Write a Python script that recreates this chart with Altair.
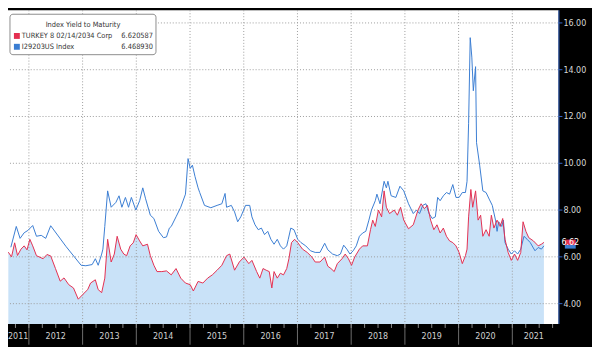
import altair as alt
import pandas as pd

# ---------------- data ----------------
series_names = ["TURKEY 8 02/14/2034 Corp", "I29203US Index"]
last_values = [6.620587, 6.468930]
badge_text = ["6.62", "6.47"]
legend_title = "Index Yield to Maturity"

turkey_t = [2011.617, 2011.677, 2011.735, 2011.788, 2011.853, 2011.912, 2011.965, 2012.018, 2012.071, 2012.141,
            2012.265, 2012.336, 2012.406, 2012.495, 2012.583, 2012.654, 2012.742, 2012.830, 2012.919, 2013.007,
            2013.095, 2013.148, 2013.237, 2013.290, 2013.355, 2013.413, 2013.466, 2013.532, 2013.590, 2013.643,
            2013.709, 2013.767, 2013.820, 2013.885, 2013.943, 2013.996, 2014.062, 2014.120, 2014.208, 2014.261,
            2014.327, 2014.385, 2014.474, 2014.562, 2014.650, 2014.739, 2014.827, 2014.915, 2015.004, 2015.062,
            2015.150, 2015.239, 2015.327, 2015.415, 2015.504, 2015.592, 2015.680, 2015.740, 2015.829, 2015.917,
            2016.005, 2016.094, 2016.152, 2016.240, 2016.299, 2016.359, 2016.417, 2016.475, 2016.523, 2016.564,
            2016.624, 2016.682, 2016.740, 2016.800, 2016.841, 2016.889, 2016.947, 2017.005, 2017.094, 2017.182,
            2017.270, 2017.330, 2017.419, 2017.507, 2017.565, 2017.624, 2017.684, 2017.742, 2017.830, 2017.889,
            2017.949, 2018.007, 2018.065, 2018.154, 2018.214, 2018.302, 2018.360, 2018.401, 2018.449, 2018.507,
            2018.567, 2018.613, 2018.655, 2018.714, 2018.802, 2018.860, 2018.920, 2018.979, 2019.067, 2019.156,
            2019.244, 2019.302, 2019.362, 2019.420, 2019.479, 2019.539, 2019.597, 2019.656, 2019.716, 2019.774,
            2019.832, 2019.892, 2019.951, 2020.009, 2020.069, 2020.127, 2020.157, 2020.186, 2020.228, 2020.263,
            2020.316, 2020.363, 2020.410, 2020.451, 2020.511, 2020.569, 2020.610, 2020.657, 2020.716, 2020.775,
            2020.821, 2020.864, 2020.922, 2020.981, 2021.041, 2021.099, 2021.157, 2021.200, 2021.253, 2021.306,
            2021.394, 2021.482, 2021.541, 2021.588]
turkey_v = [6.20, 6.00, 6.60, 6.06, 6.33, 6.47, 6.30, 6.75, 6.47, 6.05,
            5.92, 6.10, 6.04, 5.50, 4.96, 5.10, 4.81, 4.67, 4.19, 4.40,
            4.60, 4.88, 5.02, 4.60, 4.47, 5.09, 6.75, 5.78, 6.12, 6.88,
            6.33, 6.12, 6.05, 6.47, 6.60, 6.95, 6.68, 6.47, 6.54, 6.05,
            5.64, 5.37, 5.37, 5.40, 5.23, 5.50, 5.09, 4.88, 4.81, 4.54,
            4.95, 4.88, 5.09, 5.23, 5.43, 5.64, 6.05, 6.12, 5.43, 5.78,
            5.99, 5.71, 5.85, 5.37, 5.09, 5.50, 5.43, 5.37, 4.67, 5.37,
            5.09, 5.30, 5.23, 5.50, 5.92, 6.61, 6.75, 6.61, 6.33, 6.19,
            5.99, 5.78, 5.78, 5.99, 5.60, 5.50, 5.37, 5.71, 5.92, 6.12,
            5.92, 5.64, 5.99, 6.33, 6.47, 6.47, 7.16, 7.57, 7.30, 8.00,
            7.71, 8.82, 8.12, 7.85, 8.00, 7.78, 8.12, 7.57, 7.20, 7.37,
            8.00, 8.27, 8.06, 8.20, 7.57, 7.16, 7.37, 7.02, 7.23, 6.88,
            6.68, 6.61, 6.47, 6.19, 5.71, 6.05, 6.33, 7.71, 8.88, 8.12,
            8.82, 7.57, 7.78, 6.88, 7.16, 6.88, 7.78, 7.23, 7.57, 7.30,
            7.64, 6.75, 6.19, 5.85, 6.12, 5.85, 6.19, 7.50, 7.09, 6.82,
            6.68, 6.47, 6.54, 6.62]

index_t = [2011.664, 2011.765, 2011.836, 2011.912, 2011.982, 2012.071, 2012.141, 2012.230, 2012.313, 2012.406,
           2012.689, 2012.972, 2013.060, 2013.178, 2013.237, 2013.290, 2013.355, 2013.378, 2013.413, 2013.466,
           2013.532, 2013.620, 2013.678, 2013.731, 2013.797, 2013.855, 2013.908, 2013.991, 2014.062, 2014.120,
           2014.173, 2014.261, 2014.327, 2014.415, 2014.504, 2014.562, 2014.615, 2014.650, 2014.739, 2014.827,
           2014.915, 2014.963, 2015.004, 2015.044, 2015.092, 2015.150, 2015.180, 2015.269, 2015.387, 2015.504,
           2015.592, 2015.652, 2015.680, 2015.769, 2015.829, 2015.887, 2015.945, 2016.034, 2016.111, 2016.152,
           2016.210, 2016.270, 2016.329, 2016.387, 2016.447, 2016.505, 2016.564, 2016.624, 2016.682, 2016.740,
           2016.800, 2016.829, 2016.876, 2016.935, 2017.005, 2017.065, 2017.154, 2017.242, 2017.330, 2017.419,
           2017.507, 2017.565, 2017.654, 2017.742, 2017.800, 2017.860, 2017.919, 2017.977, 2018.037, 2018.095,
           2018.154, 2018.214, 2018.272, 2018.330, 2018.378, 2018.449, 2018.479, 2018.537, 2018.613, 2018.655,
           2018.684, 2018.744, 2018.832, 2018.908, 2018.979, 2019.067, 2019.156, 2019.214, 2019.274, 2019.332,
           2019.391, 2019.451, 2019.509, 2019.567, 2019.610, 2019.656, 2019.716, 2019.774, 2019.832, 2019.892,
           2019.951, 2020.009, 2020.069, 2020.127, 2020.157, 2020.186, 2020.216, 2020.246, 2020.274, 2020.316,
           2020.334, 2020.392, 2020.451, 2020.511, 2020.569, 2020.627, 2020.687, 2020.716, 2020.746, 2020.804,
           2020.834, 2020.864, 2020.922, 2020.981, 2021.041, 2021.099, 2021.157, 2021.217, 2021.276, 2021.334,
           2021.422, 2021.482, 2021.541, 2021.588]
index_v = [6.41, 7.30, 6.79, 7.03, 7.13, 7.34, 6.88, 6.92, 6.79, 7.33,
           6.45, 5.64, 5.62, 5.67, 5.92, 5.64, 6.12, 6.33, 7.30, 8.82,
           8.12, 8.33, 8.61, 8.12, 8.54, 8.12, 8.54, 8.00, 8.40, 8.95,
           8.48, 7.78, 7.64, 7.09, 6.82, 6.85, 7.23, 7.30, 7.71, 8.12,
           8.68, 10.20, 9.78, 9.92, 9.44, 8.95, 8.75, 8.20, 8.10, 8.20,
           8.27, 8.71, 8.12, 8.20, 7.92, 7.50, 7.71, 8.20, 8.20, 7.71,
           7.37, 7.16, 7.23, 6.95, 7.09, 6.75, 6.54, 6.75, 6.47, 6.33,
           6.47, 6.75, 7.23, 7.16, 6.75, 6.61, 6.47, 6.26, 6.19, 6.19,
           6.58, 6.30, 6.12, 6.05, 6.12, 6.50, 6.33, 6.12, 6.26, 6.47,
           6.88, 7.02, 7.09, 7.57, 8.00, 8.40, 8.68, 8.27, 9.23, 8.95,
           9.23, 8.61, 8.54, 9.02, 8.82, 8.27, 7.85, 8.00, 7.85, 8.20,
           8.27, 7.85, 7.64, 7.71, 8.54, 8.40, 8.61, 8.75, 8.68, 9.09,
           8.54, 8.54, 8.75, 8.75, 9.23, 11.71, 15.37, 14.54, 13.10, 14.13,
           10.88, 9.92, 8.82, 8.75, 8.47, 8.20, 7.57, 7.09, 7.50, 7.30,
           7.57, 6.61, 6.33, 6.12, 6.26, 6.12, 6.33, 6.88, 6.75, 6.61,
           6.26, 6.40, 6.33, 6.47]

year_bounds = [2012, 2013, 2014, 2015, 2016, 2017, 2018, 2019, 2020, 2021]
year_labels = ["2011", "2012", "2013", "2014", "2015", "2016", "2017", "2018", "2019", "2020", "2021"]
year_label_t = [2011.80, 2012.5, 2013.5, 2014.5, 2015.5, 2016.5, 2017.5, 2018.5, 2019.5, 2020.5, 2021.40]
y_ticks = [4, 6, 8, 10, 12, 14, 16]
y_tick_labels = ["4.00", "6.00", "8.00", "10.00", "12.00", "14.00", "16.00"]

X_DOMAIN = [2011.611, 2021.859]
Y_DOMAIN = [3.13, 16.54]
W, H = 558, 318
RIGHT = 34
STRIP = 21
RED, BLUE, FILL = "#e42f50", "#3a7dd2", "#c9e2f8"
AXIS_BLUE = "#3566c8"
FONT = "Liberation Sans Narrow, DejaVu Sans Condensed, Liberation Sans, sans-serif"

quarter_ticks = [yr + q / 4 for yr in range(2011, 2022) for q in range(4)]
quarter_ticks = [q for q in quarter_ticks if X_DOMAIN[0] <= q <= X_DOMAIN[1]]

turkey = pd.DataFrame({"t": turkey_t, "v": turkey_v, "series": series_names[0]})
index = pd.DataFrame({"t": index_t, "v": index_v, "series": series_names[1]})

xs = alt.Scale(domain=X_DOMAIN, nice=False, zero=False)
ys = alt.Scale(domain=Y_DOMAIN, nice=False, zero=False)
cs = alt.Scale(domain=series_names, range=[RED, BLUE])

X = alt.X("t:Q", scale=xs, axis=None)
Y = alt.Y("v:Q", scale=ys, axis=None)

area = alt.Chart(turkey).mark_area(color=FILL, opacity=1).encode(
    x=X, y=Y, y2=alt.datum(Y_DOMAIN[0]),
)

hgrid = alt.Chart(pd.DataFrame({"v": y_ticks})).mark_rule(
    color="#9c9c9c", strokeDash=[1, 2], strokeWidth=1
).encode(y=Y)

vgrid = alt.Chart(pd.DataFrame({"t": year_bounds})).mark_rule(
    color="#9c9c9c", strokeDash=[1, 2], strokeWidth=1
).encode(x=X)

# bottom strip: year separators, quarter ticks, year labels
seps = alt.Chart(pd.DataFrame({"t": year_bounds})).mark_rule(
    color="#6e6e6e", strokeWidth=1
).encode(x=X, y=alt.value(H), y2=alt.value(H + STRIP))
qticks = alt.Chart(pd.DataFrame({"t": quarter_ticks})).mark_rule(
    color="#8a8a8a", strokeWidth=1
).encode(x=X, y=alt.value(H), y2=alt.value(H + 4))
xlabels = alt.Chart(pd.DataFrame({"t": year_label_t, "lab": year_labels})).mark_text(
    color="#d0d0d0", fontSize=9, font=FONT, baseline="middle", align="center"
).encode(x=X, y=alt.value(H + 12), text="lab:N")

# right axis: domain line, ticks, labels
ydomain = alt.Chart(pd.DataFrame({"a": [0]})).mark_rule(color=AXIS_BLUE, strokeWidth=1).encode(
    x=alt.value(W + 0.5), y=alt.value(0), y2=alt.value(H))
yticks = alt.Chart(pd.DataFrame({"v": y_ticks})).mark_rule(color=AXIS_BLUE, strokeWidth=1).encode(
    y=Y, x=alt.value(W), x2=alt.value(W + 4))
ylabels = alt.Chart(pd.DataFrame({"v": y_ticks, "lab": y_tick_labels})).mark_text(
    color="#d8d8d8", fontSize=9, font=FONT, align="left", baseline="middle"
).encode(y=Y, x=alt.value(W + 5), text="lab:N")

line_index = alt.Chart(index).mark_line(strokeWidth=1).encode(
    x=X, y=Y, color=alt.Color("series:N", scale=cs, legend=None))
line_turkey = alt.Chart(turkey).mark_line(strokeWidth=1).encode(
    x=X, y=Y, color=alt.Color("series:N", scale=cs, legend=None))

# legend box (decoration)
LEG_FS = 7.5
BOX_R = 150
one = pd.DataFrame({"a": [0]})
box = alt.Chart(one).mark_rect(fill="white", stroke="#8c8c8c", strokeWidth=1, cornerRadius=3).encode(
    x=alt.value(2), x2=alt.value(BOX_R), y=alt.value(4), y2=alt.value(45))
title = alt.Chart(one).mark_text(text=legend_title, fontSize=LEG_FS, font=FONT, color="#333333",
                                 align="center", baseline="middle").encode(
    x=alt.value((2 + BOX_R) / 2), y=alt.value(15))
legend_layers = [box, title]
for i, (nm, val) in enumerate(zip(series_names, last_values)):
    row = pd.DataFrame({"series": [nm], "val": [f"{val:.6f}"]})
    yy = 26 + 11 * i
    legend_layers.append(alt.Chart(row).mark_square(size=36, opacity=1, filled=True).encode(
        x=alt.value(9), y=alt.value(yy), color=alt.Color("series:N", scale=cs, legend=None)))
    legend_layers.append(alt.Chart(row).mark_text(fontSize=LEG_FS, font=FONT, color="#333333",
                                                  align="left", baseline="middle").encode(
        x=alt.value(14), y=alt.value(yy), text="series:N"))
    legend_layers.append(alt.Chart(row).mark_text(fontSize=LEG_FS, font=FONT, color="#333333",
                                                  align="right", baseline="middle").encode(
        x=alt.value(BOX_R - 3), y=alt.value(yy), text="val:N"))

# right-edge value badges
badges_df = pd.DataFrame({"v": last_values, "series": series_names, "lab": badge_text})
badge_order = badges_df.iloc[::-1]
badges = alt.Chart(badge_order).mark_point(
    shape="M-1,-0.5L1,-0.5L1,0.5L-1,0.5Z", size=121, filled=True, opacity=1
).encode(x=alt.value(W + 12), y=Y, color=alt.Color("series:N", scale=cs, legend=None))
badge_txt = alt.Chart(badges_df.iloc[[0]]).mark_text(
    color="white", fontSize=9, font=FONT, align="left", baseline="middle"
).encode(x=alt.value(W + 3), y=Y, text="lab:N")

chart = alt.layer(
    area, hgrid, vgrid, seps, qticks, xlabels, ydomain, yticks, ylabels,
    line_index, line_turkey, *legend_layers, badges, badge_txt
).properties(
    width=W, height=H,
    autosize=alt.AutoSizeParams(type="none"),
    padding={"left": 0, "top": 0, "right": RIGHT, "bottom": STRIP},
    background="black",
).configure_view(strokeWidth=0, fill="white")

chart.save("out.html", embed_options={"renderer": "svg", "actions": False})
